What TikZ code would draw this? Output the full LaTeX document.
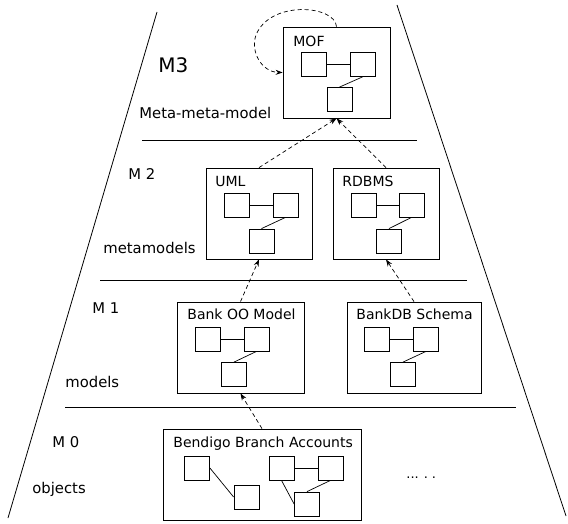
\documentclass[tikz,border=0pt]{standalone}
\usepackage{fontspec}
\setmainfont{DejaVu Sans}
\usetikzlibrary{arrows.meta}
\begin{document}
\begin{tikzpicture}[x=1pt,y=-1pt,line width=0.8pt,
  frame/.style={draw,inner sep=0pt,minimum height=91pt,minimum width=#1},
  cls/.style={draw,inner sep=0pt,minimum width=25pt,minimum height=24pt},
  title/.style={anchor=base west,inner sep=0pt,font=\fontsize{14}{16}\selectfont},
  level/.style={anchor=base west,inner sep=0pt,font=\fontsize{14.8}{17}\selectfont},
  assoc/.style={line width=0.7pt},
  dep/.style={line width=0.7pt,dash pattern=on 4pt off 3pt,-{Stealth[length=7pt,width=5pt]}}]

% canvas
\fill[white] (0,0) rectangle (568,524);
\useasboundingbox (0,0) rectangle (568,524);

% pyramid sides and level separators
\coordinate (lt) at (157,12);
\coordinate (lb) at (8,518);
\coordinate (rt) at (397,5);
\coordinate (rb) at (566,516);
\draw (lt) -- (lb);
\draw (rt) -- (rb);
\coordinate (h1a) at (142,140); \coordinate (h1b) at (417,140);
\coordinate (h2a) at (100,280); \coordinate (h2b) at (467,280);
\coordinate (h3a) at (65,407);  \coordinate (h3b) at (516,407);
\draw (h1a) -- (h1b);
\draw (h2a) -- (h2b);
\draw (h3a) -- (h3b);

% level labels
\node[anchor=base west,inner sep=0pt,font=\fontsize{20}{24}\selectfont] (m3) at (158,73) {M3};
\node[level] (mmm) at (139,119) {Meta-meta-model};
\node[level] (m2) at (128,180) {M 2};
\node[level] (mm) at (103,253) {metamodels};
\node[level] (m1) at (92,313) {M 1};
\node[level] (mods) at (65,387) {models};
\node[level] (m0) at (52,447) {M 0};
\node[level] (objs) at (32,493) {objects};

% M3: MOF
\node[frame=107pt] (mof) at (336.5,72.5) {};
\node[title] (moft) at (293,47) {MOF};
\node[cls] (mof1) at (314,64.5) {};
\node[cls] (mof2) at (362.5,64.5) {};
\node[cls] (mof3) at (339.5,99.5) {};
\draw[assoc] (mof1.east) -- (mof2.west);
\draw[assoc] (mof2.south) -- (mof3.north);

% M2: UML and RDBMS
\node[frame=106pt] (uml) at (259,213.5) {};
\node[title] (umlt) at (215,187) {UML};
\node[cls] (uml1) at (236.5,205) {};
\node[cls] (uml2) at (285.5,205) {};
\node[cls] (uml3) at (261.5,241) {};
\draw[assoc] (uml1.east) -- (uml2.west);
\draw[assoc] (uml2.south) -- (uml3.north);

\node[frame=106pt] (rdb) at (386,213.5) {};
\node[title] (rdbt) at (342,187) {RDBMS};
\node[cls] (rdb1) at (363.5,205) {};
\node[cls] (rdb2) at (411.5,205) {};
\node[cls] (rdb3) at (389,241) {};
\draw[assoc] (rdb1.east) -- (rdb2.west);
\draw[assoc] (rdb2.south) -- (rdb3.north);

% M1: Bank OO Model and BankDB Schema
\node[frame=127pt] (boo) at (240.5,347.5) {};
\node[title] (boot) at (187,319) {Bank OO Model};
\node[cls] (boo1) at (208,339) {};
\node[cls] (boo2) at (256.5,339) {};
\node[cls] (boo3) at (234,374.5) {};
\draw[assoc] (boo1.east) -- (boo2.west);
\draw[assoc] (boo2.south) -- (boo3.north);

\node[frame=134pt] (bdb) at (414,347.5) {};
\node[title] (bdbt) at (356,319) {BankDB Schema};
\node[cls] (bdb1) at (377,339) {};
\node[cls] (bdb2) at (426,339) {};
\node[cls] (bdb3) at (403,374.5) {};
\draw[assoc] (bdb1.east) -- (bdb2.west);
\draw[assoc] (bdb2.south) -- (bdb3.north);

% M0: Bendigo Branch Accounts
\node[frame=198pt] (ben) at (262,474.5) {};
\node[title] (bent) at (173,447) {Bendigo Branch Accounts};
\node[cls] (o1) at (197,468) {};
\node[cls] (o2) at (246.5,497) {};
\node[cls] (o3) at (281.5,468) {};
\node[cls] (o4) at (330.5,468) {};
\node[cls] (o5) at (307,504) {};
\draw[assoc] (o1.east) -- (o2.west);
\draw[assoc] (o3.east) -- (o4.west);
\draw[assoc] (o3.south) -- (o5.west);
\draw[assoc] (o4.south) -- (o5.north);
\node[anchor=base west,inner sep=0pt,font=\fontsize{13}{15}\selectfont] (more) at (406,478) {...\hspace{5pt}.\hspace{4pt}.};

% instance-of dependencies
\draw[dep] (ben.north) -- (boo.south);
\draw[dep] (boo.north) -- (uml.south);
\draw[dep] (bdb.north) -- (rdb.south);
\draw[dep] (uml.north) -- (mof.south);
\draw[dep] (rdb.north) -- (mof.south);
\draw[dep] (mof.north) .. controls (335,5) and (270,0) .. (256,35)
  .. controls (250,52) and (262,72) .. (mof.west);
\end{tikzpicture}
\end{document}
